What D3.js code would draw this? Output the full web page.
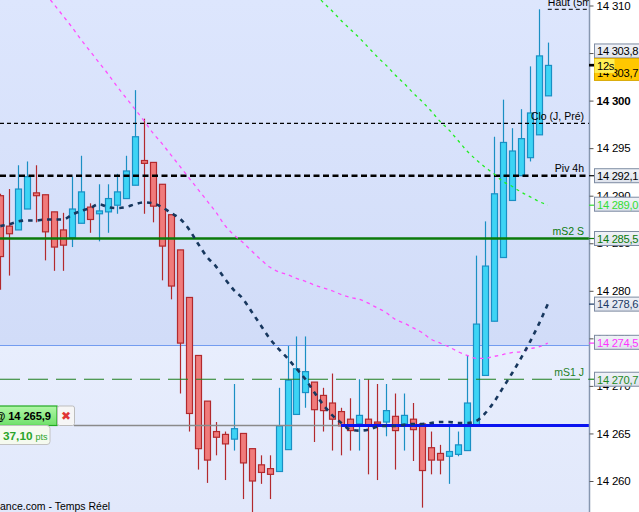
<!DOCTYPE html>
<html><head><meta charset="utf-8">
<script src="https://cdn.jsdelivr.net/npm/d3@7"></script>
<style>
html,body{margin:0;padding:0;background:#fff;overflow:hidden}
svg{display:block;font-family:"Liberation Sans",Arial,sans-serif}
</style></head><body>
<svg id="c" width="639" height="512"></svg>
<script>
// ---------- DATA ----------
const opens  = [14290.0,14286.8,14286.4,14288.6,14290.3,14290.1,14288.3,14286.4,14285.6,14287.1,
                14288.8,14288.1,14288.3,14289.0,14289.7,14291.1,14293.7,14293.5,14291.2,14288.0,
                14284.3,14279.3,14273.2,14268.4,14265.2,14264.9,14264.4,14265.0,14263.4,14261.7,
                14261.3,14261.0,14263.3,14267.0,14269.3,14270.4,14269.0,14268.2,14267.3,14266.5,
                14266.0,14266.5,14266.2,14266.2,14266.8,14266.0,14266.5,14266.0,14263.5,14262.9,
                14262.6,14262.8,14263.2,14265.8,14271.1,14276.8,14283.5,14289.5,14292.1,14294.0,
                14296.4,14300.5];
const highs  = [14290.2,14290.7,14293.2,14293.6,14293.2,14290.1,14288.3,14288.2,14292.0,14294.2,
                14289.2,14291.2,14291.2,14292.3,14294.2,14301.1,14298.1,14293.5,14291.2,14288.0,
                14284.3,14279.3,14273.2,14268.4,14266.2,14265.2,14270.2,14265.0,14263.4,14262.7,
                14262.7,14269.8,14274.2,14275.2,14275.2,14270.4,14269.8,14271.3,14267.7,14268.7,
                14270.7,14270.7,14270.2,14270.2,14269.2,14269.2,14268.2,14266.0,14265.2,14263.8,
                14265.8,14265.2,14273.2,14283.7,14287.3,14296.2,14300.1,14297.1,14299.1,14303.6,
                14309.6,14306.1];
const lows   = [14280.1,14281.6,14286.4,14288.6,14287.2,14283.2,14282.1,14282.1,14284.6,14287.1,
                14286.1,14285.2,14286.1,14288.1,14289.7,14291.1,14288.1,14287.2,14281.1,14279.1,
                14269.2,14265.2,14261.2,14259.8,14262.7,14260.1,14263.2,14258.1,14256.7,14259.7,
                14258.1,14261.0,14263.3,14267.0,14267.7,14264.1,14265.2,14263.2,14262.7,14263.2,
                14263.2,14260.7,14260.1,14264.7,14261.2,14263.2,14262.1,14257.2,14260.7,14260.7,
                14259.7,14262.6,14263.2,14265.8,14271.1,14276.8,14283.5,14289.5,14292.1,14293.6,
                14296.4,14300.5];
const closes = [14283.6,14286.0,14290.7,14292.0,14290.0,14286.2,14284.6,14284.8,14288.6,14290.4,
                14287.5,14288.4,14289.7,14290.4,14292.6,14296.2,14293.4,14288.9,14284.7,14280.5,
                14274.5,14267.1,14263.4,14262.2,14264.6,14263.9,14265.5,14261.9,14260.0,14260.9,
                14260.7,14265.8,14270.6,14271.8,14271.5,14267.5,14267.4,14266.5,14265.8,14265.3,
                14266.9,14265.9,14266.0,14267.4,14265.3,14266.9,14265.4,14261.1,14262.2,14262.2,
                14263.1,14263.8,14268.2,14276.5,14282.6,14290.2,14295.6,14294.7,14296.0,14298.7,
                14304.7,14303.7];
// moving averages (one value per candle)
const maNavy = [14286.8,14287.0,14287.3,14287.4,14287.4,14287.5,14287.5,14287.5,14288.0,14288.4,
                14288.7,14289.1,14288.8,14288.7,14288.8,14289.1,14289.3,14289.2,14288.8,14288.2,
                14287.6,14286.5,14285.0,14283.6,14282.6,14281.3,14280.1,14279.2,14277.8,14276.4,
                14275.0,14273.9,14272.9,14271.8,14270.7,14269.3,14268.0,14266.9,14266.1,14265.4,
                14265.3,14265.4,14265.7,14265.8,14265.8,14265.9,14266.0,14266.0,14266.1,14266.2,
                14266.2,14266.1,14266.1,14266.3,14267.1,14268.3,14269.8,14271.3,14272.9,14274.6,
                14276.5,14278.6];
const maPink = [14317.5,14316.3,14315.0,14313.8,14312.6,14311.3,14310.1,14308.9,14307.7,14306.4,
                14305.2,14304.0,14302.8,14301.5,14300.3,14299.1,14297.9,14296.6,14295.5,14294.3,
                14293.1,14291.9,14290.7,14289.5,14288.3,14286.9,14285.9,14285.1,14284.2,14283.3,
                14282.5,14282.0,14281.7,14281.3,14281.0,14280.6,14280.3,14280.0,14279.6,14279.3,
                14279.1,14278.7,14278.2,14277.7,14277.0,14276.6,14276.1,14275.6,14274.9,14274.5,
                14274.1,14273.6,14273.2,14272.9,14272.9,14273.1,14273.3,14273.5,14273.6,14273.9,
                14274.1,14274.5];
const maGreenStart = 33; // candle index of first value
const maGreen = [14313.2,14312.3,14311.3,14310.3,14309.4,14308.4,14307.5,14306.6,14305.6,14304.6,
                 14303.7,14302.7,14301.8,14300.8,14299.9,14298.9,14297.8,14296.9,14295.8,14294.7,
                 14293.8,14293.0,14292.3,14291.5,14291.0,14290.4,14289.9,14289.4,14289.0];
// horizontal levels
const levelNames  = ["Haut (5mn)","Clo (J, Pré)","Piv 4h","mS2 S","mS1 J"];
const levelValues = [14309.6,14297.6,14292.1,14285.5,14270.7];
const bandValue = 14274.3;
const entryPrice = 14265.9;
const entryText = "@ 14 265,9";
const pointsText = "37,10";
const yTicks = [14260,14265,14270,14275,14280,14285,14290,14295,14300,14305,14310];
const axisLabels = [14303.8,14303.7,14292.1,14289.0,14285.5,14278.6,14274.5,14270.7];
const timerText = "12s";
const footerText = "ance.com - Temps Réel";

// ---------- LAYOUT / STYLE ----------
const W=639,H=512,AX=589;
const svg=d3.select("#c");
const y=d3.scaleLinear().domain([14260,14310]).range([481,5.5]);
const x=d3.scaleLinear().domain([0,opens.length-1]).range([0.3,547.8]);
const loc=d3.formatLocale({decimal:",",thousands:" ",grouping:[3],currency:["",""]});
const fTick=loc.format(",d"), fVal=loc.format(",.1f");
const AXFONT=11.2, LS="-0.3";

const defs=svg.append("defs");
function grad(id,c0,c1){const g=defs.append("linearGradient").attr("id",id).attr("x1",0).attr("y1",0).attr("x2",0).attr("y2",1);
  g.append("stop").attr("offset","0%").attr("stop-color",c0);g.append("stop").attr("offset","100%").attr("stop-color",c1);}
grad("bgTop","#dde6fd","#d1dcf8");
grad("bgBot","#e8eefd","#e1e8fb");
grad("grn","#b2f7a8","#6fe06a");
grad("box","#f1f3f8","#dde2ec");
defs.append("clipPath").attr("id","clip").append("rect").attr("x",0).attr("y",0).attr("width",AX).attr("height",H);

svg.append("rect").attr("x",0).attr("y",0).attr("width",W).attr("height",H).attr("fill","#fff");
const chart=svg.append("g").attr("clip-path","url(#clip)");
const yb=Math.round(y(bandValue));
chart.append("rect").attr("x",0).attr("y",0).attr("width",AX).attr("height",yb).attr("fill","url(#bgTop)");
chart.append("rect").attr("x",0).attr("y",yb).attr("width",AX).attr("height",H-yb).attr("fill","url(#bgBot)");
chart.append("line").attr("x1",0).attr("x2",AX).attr("y1",yb+0.5).attr("y2",yb+0.5).attr("stroke","#739cf0").attr("stroke-width",1);

// candles
const candles=d3.range(opens.length).map(i=>({i,o:opens[i],h:highs[i],l:lows[i],c:closes[i]}));
const bull={fill:"#3dd4f5",stroke:"#1a8fc4"}, bear={fill:"#f07b7b",stroke:"#b2292d"};
const cg=chart.append("g");
cg.selectAll("line.w").data(candles).join("line").attr("class","w")
  .attr("x1",d=>Math.round(x(d.i))+0.5).attr("x2",d=>Math.round(x(d.i))+0.5)
  .attr("y1",d=>y(d.h)).attr("y2",d=>y(d.l))
  .attr("stroke",d=>d.c>=d.o?bull.stroke:bear.stroke).attr("stroke-width",1.2);
cg.selectAll("rect.b").data(candles).join("rect").attr("class","b")
  .attr("x",d=>Math.round(x(d.i))-2.5).attr("width",6)
  .attr("y",d=>y(Math.max(d.o,d.c))).attr("height",d=>Math.max(1,Math.abs(y(d.o)-y(d.c))))
  .attr("fill",d=>d.c>=d.o?bull.fill:bear.fill).attr("stroke",d=>d.c>=d.o?bull.stroke:bear.stroke).attr("stroke-width",1.2);

// levels
const levelStyle=[
 {c:"#000",w:1,d:"4,3",x0:x(61),tc:"#000"},
 {c:"#000",w:1.2,d:"4,3",x0:0,tc:"#000"},
 {c:"#000",w:2.6,d:"6,3.5",x0:0,tc:"#000"},
 {c:"#0a7a0a",w:2.4,d:null,x0:0,tc:"#0a7a0a"},
 {c:"#1f7f1f",w:1.2,d:"20,8",x0:0,tc:"#1f7f1f"}];
levelValues.forEach((v,i)=>{
  const s=levelStyle[i], yy=y(v);
  const ln=chart.append("line").attr("x1",s.x0).attr("x2",AX).attr("y1",yy).attr("y2",yy)
    .attr("stroke",s.c).attr("stroke-width",s.w);
  if(s.d) ln.attr("stroke-dasharray",s.d);
  const t=chart.append("text").attr("font-size",10.5).attr("fill",s.tc).text(levelNames[i]);
  if(i===0) t.attr("x",x(61)).attr("y",yy-3.5);
  else t.attr("x",584).attr("y",yy-3.5).attr("text-anchor","end");
});

// entry line
const ye=Math.round(y(entryPrice))+0.5;
chart.append("line").attr("x1",74).attr("x2",341).attr("y1",ye).attr("y2",ye).attr("stroke","#8a8a8a").attr("stroke-width",1.3);
chart.append("line").attr("x1",341).attr("x2",AX).attr("y1",ye).attr("y2",ye).attr("stroke","#0a14f0").attr("stroke-width",3);

// moving averages
const line=d3.line().x(d=>x(d[0])).y(d=>y(d[1])).curve(d3.curveMonotoneX);
chart.append("path").attr("d",line(maPink.map((v,i)=>[i,v]))).attr("fill","none")
  .attr("stroke","#ff4dff").attr("stroke-width",1.3).attr("stroke-dasharray","3.5,4");
chart.append("path").attr("d",line(maGreen.map((v,i)=>[i+maGreenStart,v]))).attr("fill","none")
  .attr("stroke","#22ee22").attr("stroke-width",1.3).attr("stroke-dasharray","3,4");
chart.append("path").attr("d",line(maNavy.map((v,i)=>[i,v]))).attr("fill","none")
  .attr("stroke","#17375e").attr("stroke-width",2.6).attr("stroke-dasharray","4.5,5");

// left boxes
const lb=svg.append("g");
lb.append("rect").attr("x",-6).attr("y",ye-19.5).attr("width",63).attr("height",19.5).attr("fill","url(#grn)").attr("stroke","#22a822").attr("stroke-width",1.2);
lb.append("text").attr("x",51).attr("y",ye-5.5).attr("text-anchor","end").attr("font-size",11.2).attr("letter-spacing","-0.1").attr("font-weight","bold").attr("fill","#000").text(entryText);
lb.append("rect").attr("x",57.5).attr("y",ye-19.5).attr("width",17).attr("height",19.5).attr("rx",2).attr("fill","#f6f6f6").attr("stroke","#bdbdbd");
lb.append("text").attr("x",66).attr("y",ye-5.5).attr("text-anchor","middle").attr("font-size",12).attr("font-family","DejaVu Sans").attr("fill","#e03535").text("\u2716");
lb.append("rect").attr("x",-6).attr("y",ye).attr("width",56).attr("height",19).attr("rx",3).attr("fill","#f5faef").attr("stroke","#c2c2c2");
const pt=lb.append("text").attr("x",3).attr("y",ye+14).attr("fill","#2aa52a");
pt.append("tspan").attr("font-size",11.8).attr("font-weight","bold").text(pointsText);
pt.append("tspan").attr("font-size",9).attr("dx",3).text("pts");

// footer
svg.append("text").attr("x",0).attr("y",510).attr("font-size",10.5).attr("fill","#000").text(footerText);

// right axis
svg.append("line").attr("x1",AX+0.5).attr("x2",AX+0.5).attr("y1",0).attr("y2",H).attr("stroke","#8797b0").attr("stroke-width",1.5);
const ax=svg.append("g").attr("transform",`translate(${AX+0.5},0)`)
  .call(d3.axisRight(y).tickValues(yTicks).tickSize(4).tickPadding(3).tickFormat(fTick));
ax.select(".domain").remove();
ax.selectAll(".tick line").attr("stroke","#555");
ax.selectAll(".tick text").attr("font-size",11.5).attr("letter-spacing","-0.2").attr("fill","#000").attr("font-family","Liberation Sans, Arial, sans-serif")
  .attr("font-weight",d=>d===14300?"bold":"normal");

// value boxes
const boxColors=["#000","#000","#000","#33dd33","#0a7a0a","#1b3a66","#ff33ff","#1f8a1f"];
const boxShift=[-13.5,0,0,-1,0,0,-0.8,0];
function boxText(xx,yy,col,txt){return svg.append("text").attr("x",xx).attr("y",yy).attr("font-size",AXFONT).attr("letter-spacing",LS).attr("fill",col).text(txt);}
axisLabels.forEach((v,i)=>{
  const yy=y(v);
  if(i===1){
    svg.append("line").attr("x1",AX).attr("x2",595).attr("y1",yy).attr("y2",yy).attr("stroke","#000").attr("stroke-width",2.2);
    svg.append("rect").attr("x",594.5).attr("y",yy-7).attr("width",50).attr("height",22).attr("fill","#ffc800").attr("stroke","#d8a800");
    boxText(597,yy+12,"#000",fVal(v));
    svg.append("rect").attr("x",594.5).attr("y",yy-6.5).attr("width",20).attr("height",14).attr("fill","#ffee55");
    boxText(597,yy+4.3,"#000",timerText);
    return;
  }
  const cy=yy+boxShift[i];
  svg.append("line").attr("x1",AX).attr("x2",595).attr("y1",yy).attr("y2",yy).attr("stroke",boxColors[i]).attr("stroke-width",1.2);
  svg.append("rect").attr("x",594.5).attr("y",cy-7).attr("width",50).attr("height",14).attr("fill","url(#box)").attr("stroke","#7d8ba2");
  boxText(597,cy+4.3,boxColors[i],fVal(v));
});
</script></body></html>
